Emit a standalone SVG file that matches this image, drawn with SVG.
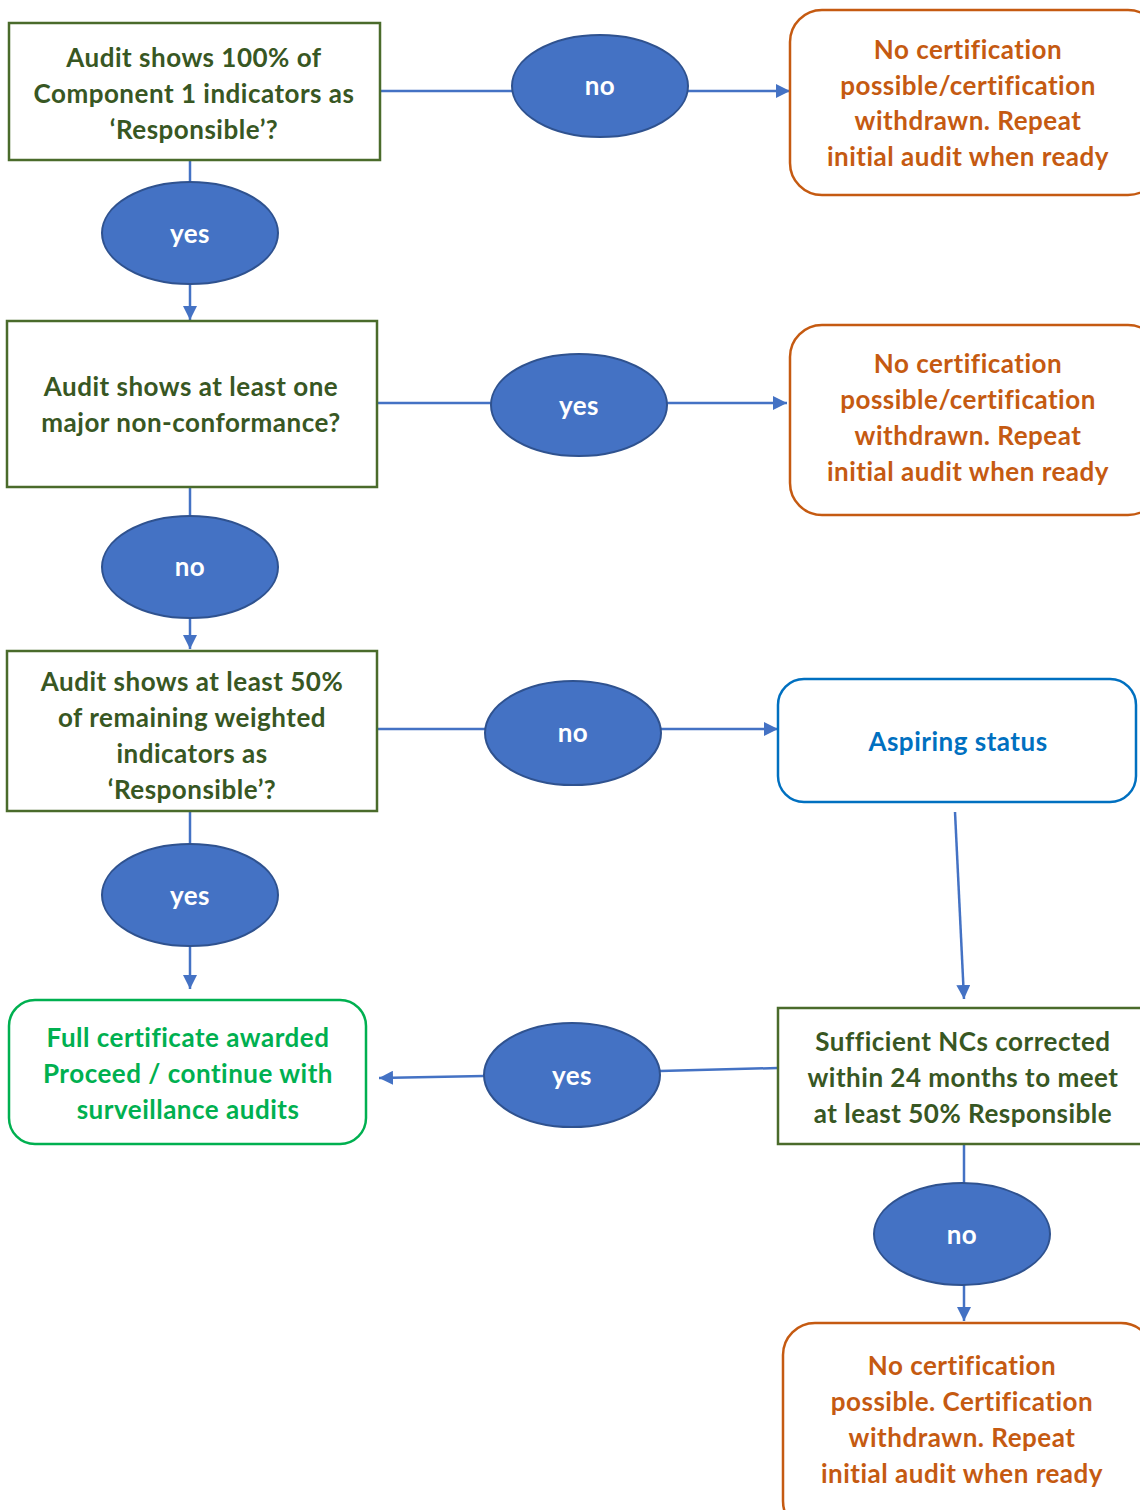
<svg xmlns="http://www.w3.org/2000/svg" width="1140" height="1510" viewBox="0 0 1140 1510">
<defs>
<marker id="arr" viewBox="0 0 10 10" refX="10" refY="5" markerWidth="5.6" markerHeight="5.6" markerUnits="strokeWidth" orient="auto">
<path d="M0,0 L10,5 L0,10 z" fill="#4472c4"/>
</marker>
<style>
.q{fill:#fff;stroke:#4a6b2b;stroke-width:2.5}
.o{fill:#fff;stroke:#c55a11;stroke-width:2.5}
.b{fill:#fff;stroke:#0070c0;stroke-width:2.5}
.g{fill:#fff;stroke:#00b050;stroke-width:2.5}
.e{fill:#4472c4;stroke:#2f528f;stroke-width:2}
text{font-family:Lato,"Open Sans","Liberation Sans",sans-serif;font-weight:bold;font-size:26px;letter-spacing:0.5px;text-anchor:middle}
.tq{fill:#385723}
.to{fill:#c55a11}
.tb{fill:#0070c0}
.tg{fill:#00b050}
.te{fill:#fff}
.c{fill:none;stroke:#4472c4;stroke-width:2.5}
</style>
</defs>
<g id="connectors">
<path class="c" d="M380,91 H512"/>
<path class="c" d="M688,91 H790" marker-end="url(#arr)"/>
<path class="c" d="M190,160 V182"/>
<path class="c" d="M190,284 V320" marker-end="url(#arr)"/>
<path class="c" d="M377,403 H491"/>
<path class="c" d="M667,403 H787" marker-end="url(#arr)"/>
<path class="c" d="M190,487 V516"/>
<path class="c" d="M190,618 V649" marker-end="url(#arr)"/>
<path class="c" d="M377,729 H485"/>
<path class="c" d="M661,729 H778" marker-end="url(#arr)"/>
<path class="c" d="M955,812 L964,999" marker-end="url(#arr)"/>
<path class="c" d="M190,811 V844"/>
<path class="c" d="M190,947 V989" marker-end="url(#arr)"/>
<path class="c" d="M778,1068 L660,1071"/>
<path class="c" d="M484,1076 L379,1078" marker-end="url(#arr)"/>
<path class="c" d="M964,1144 V1183"/>
<path class="c" d="M964,1285 V1321" marker-end="url(#arr)"/>
</g>
<g id="q1">
<rect class="q" x="9" y="23" width="371" height="137"/>
<text class="tq" x="194" y="67">Audit shows 100% of</text>
<text class="tq" x="194" y="103">Component 1 indicators as</text>
<text class="tq" x="194" y="139">‘Responsible’?</text>
</g>
<g id="e1">
<ellipse class="e" cx="600" cy="86" rx="88" ry="51"/>
<text class="te" x="600" y="95">no</text>
</g>
<g id="r1">
<rect class="o" x="790" y="10" width="370" height="185" rx="32"/>
<text class="to" x="968" y="59">No certification</text>
<text class="to" x="968" y="95">possible/certification</text>
<text class="to" x="968" y="130">withdrawn. Repeat</text>
<text class="to" x="968" y="166">initial audit when ready</text>
</g>
<g id="e2">
<ellipse class="e" cx="190" cy="233" rx="88" ry="51"/>
<text class="te" x="190" y="243">yes</text>
</g>
<g id="q2">
<rect class="q" x="7" y="321" width="370" height="166"/>
<text class="tq" x="191" y="396">Audit shows at least one</text>
<text class="tq" x="191" y="432">major non-conformance?</text>
</g>
<g id="e3">
<ellipse class="e" cx="579" cy="405" rx="88" ry="51"/>
<text class="te" x="579" y="415">yes</text>
</g>
<g id="r2">
<rect class="o" x="790" y="325" width="370" height="190" rx="32"/>
<text class="to" x="968" y="373">No certification</text>
<text class="to" x="968" y="409">possible/certification</text>
<text class="to" x="968" y="445">withdrawn. Repeat</text>
<text class="to" x="968" y="481">initial audit when ready</text>
</g>
<g id="e4">
<ellipse class="e" cx="190" cy="567" rx="88" ry="51"/>
<text class="te" x="190" y="576">no</text>
</g>
<g id="q3">
<rect class="q" x="7" y="651" width="370" height="160"/>
<text class="tq" x="192" y="691">Audit shows at least 50%</text>
<text class="tq" x="192" y="727">of remaining weighted</text>
<text class="tq" x="192" y="763">indicators as</text>
<text class="tq" x="192" y="799">‘Responsible’?</text>
</g>
<g id="e5">
<ellipse class="e" cx="573" cy="733" rx="88" ry="52"/>
<text class="te" x="573" y="742">no</text>
</g>
<g id="r3">
<rect class="b" x="778" y="679" width="358" height="123" rx="26"/>
<text class="tb" x="958" y="751">Aspiring status</text>
</g>
<g id="e6">
<ellipse class="e" cx="190" cy="895" rx="88" ry="51"/>
<text class="te" x="190" y="905">yes</text>
</g>
<g id="r4">
<rect class="g" x="9" y="1000" width="357" height="144" rx="26"/>
<text class="tg" x="188" y="1047">Full certificate awarded</text>
<text class="tg" x="188" y="1083">Proceed / continue with</text>
<text class="tg" x="188" y="1119">surveillance audits</text>
</g>
<g id="e7">
<ellipse class="e" cx="572" cy="1075" rx="88" ry="52"/>
<text class="te" x="572" y="1085">yes</text>
</g>
<g id="q4">
<rect class="q" x="778" y="1008" width="380" height="136"/>
<text class="tq" x="963" y="1051">Sufficient NCs corrected</text>
<text class="tq" x="963" y="1087">within 24 months to meet</text>
<text class="tq" x="963" y="1123">at least 50% Responsible</text>
</g>
<g id="e8">
<ellipse class="e" cx="962" cy="1234" rx="88" ry="51"/>
<text class="te" x="962" y="1244">no</text>
</g>
<g id="r5">
<rect class="o" x="783" y="1323" width="370" height="210" rx="32"/>
<text class="to" x="962" y="1375">No certification</text>
<text class="to" x="962" y="1411">possible. Certification</text>
<text class="to" x="962" y="1447">withdrawn. Repeat</text>
<text class="to" x="962" y="1483">initial audit when ready</text>
</g>
</svg>
